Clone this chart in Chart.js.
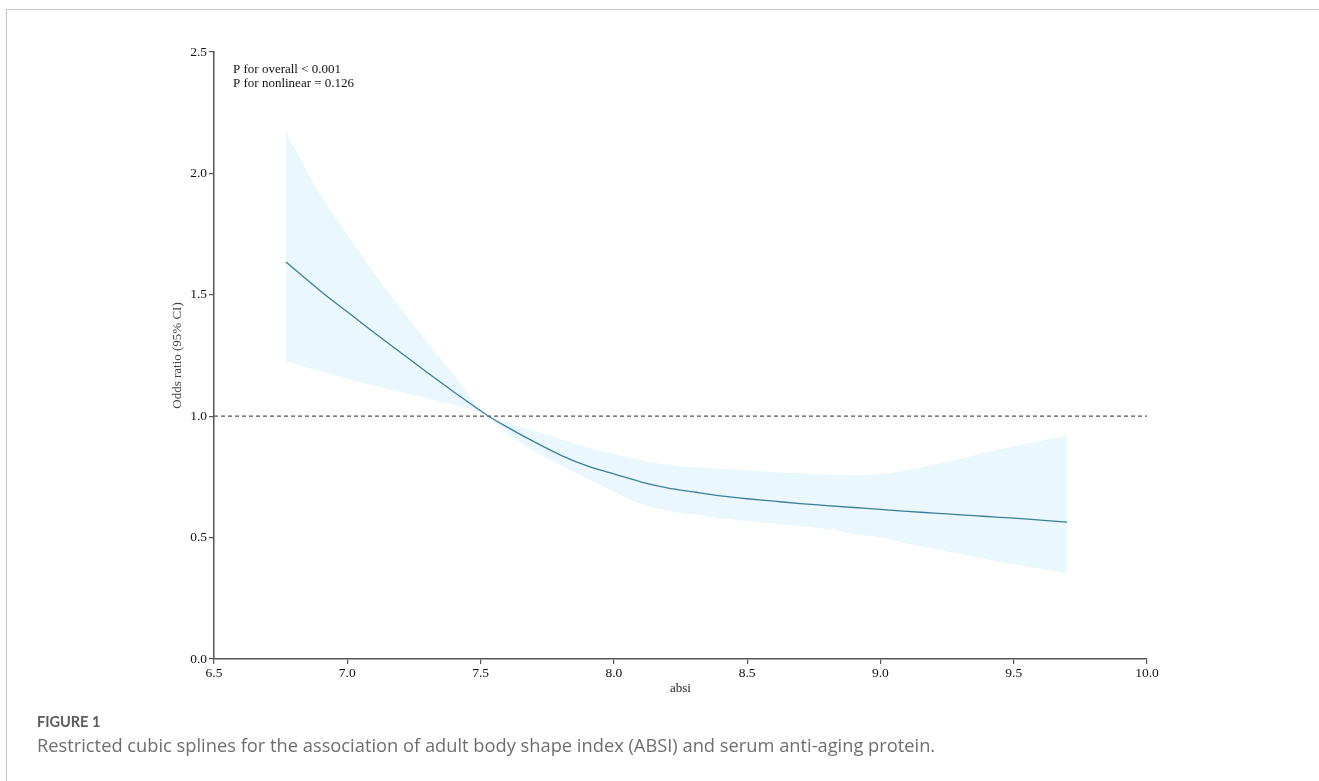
<!DOCTYPE html>
<html>
<head>
<meta charset="utf-8">
<script src="https://cdn.jsdelivr.net/npm/chart.js@4"></script>
<style>
  html, body { margin: 0; padding: 0; background: #ffffff; }
  body { width: 1319px; height: 781px; position: relative; overflow: hidden; }
  #frame { position: absolute; left: 6px; top: 9px; width: 1400px; height: 900px;
           border-left: 1px solid #c8c8c8; border-top: 1px solid #c8c8c8; }
  #wrap { position: absolute; left: 0; top: 0; width: 1319px; height: 781px; }
  #figlabel { position: absolute; left: 37px; top: 712px; font-family: Lato, "Open Sans", sans-serif;
              font-weight: 700; font-size: 14.5px; color: #5a5b5d; line-height: 20px; }
  #caption { position: absolute; left: 37px; top: 733px; font-family: "Open Sans", Lato, sans-serif;
             font-size: 18.3px; color: #6d6e71; line-height: 24px; white-space: nowrap; }
</style>
</head>
<body>
<div id="frame"></div>
<div id="wrap"><canvas id="c" width="1319" height="781"></canvas></div>
<div id="figlabel">FIGURE 1</div>
<div id="caption">Restricted cubic splines for the association of adult body shape index (ABSI) and serum anti-aging protein.</div>
<script>
// ---- data ----
const absi = [6.77, 6.9, 7.0, 7.1, 7.2, 7.3, 7.4, 7.53, 7.6, 7.7, 7.8, 7.9, 8.0, 8.1, 8.2, 8.3, 8.4, 8.5,
              8.6, 8.7, 8.8, 8.9, 9.0, 9.1, 9.2, 9.3, 9.4, 9.5, 9.6, 9.7];
const oddsRatio = [1.635, 1.515, 1.43, 1.345, 1.262, 1.18, 1.1, 1.0, 0.955, 0.895, 0.84, 0.795, 0.762, 0.73,
                   0.705, 0.688, 0.672, 0.66, 0.65, 0.64, 0.632, 0.624, 0.616, 0.608, 0.601, 0.594, 0.587,
                   0.58, 0.572, 0.564];
const upperCI = [2.17, 1.91, 1.75, 1.59, 1.445, 1.305, 1.17, 1.0, 0.975, 0.94, 0.905, 0.872, 0.845, 0.82,
                 0.80, 0.79, 0.785, 0.777, 0.770, 0.765, 0.760, 0.758, 0.762, 0.778, 0.80, 0.825, 0.852,
                 0.875, 0.898, 0.922];
const lowerCI = [1.225, 1.185, 1.155, 1.125, 1.10, 1.073, 1.045, 1.0, 0.93, 0.855, 0.798, 0.742, 0.69, 0.638,
                 0.612, 0.595, 0.58, 0.568, 0.557, 0.546, 0.535, 0.515, 0.50, 0.476, 0.454, 0.432, 0.41,
                 0.39, 0.372, 0.353];
const refLineX = [6.5, 10.0];
const refLineY = [1.0, 1.0];
const xTicks = [6.5, 7.0, 7.5, 8.0, 8.5, 9.0, 9.5, 10.0];
const yTicks = [0.0, 0.5, 1.0, 1.5, 2.0, 2.5];
const annotationLines = ["P for overall < 0.001", "P for nonlinear = 0.126"];
const xTitle = "absi";
const yTitle = "Odds ratio (95% CI)";

const pts = (xs, ys) => xs.map((x, i) => ({ x: x, y: ys[i] }));

const serif = '"Liberation Serif", "Times New Roman", serif';

const annotationPlugin = {
  id: 'pAnnot',
  afterDraw(chart) {
    const { ctx, chartArea } = chart;
    ctx.save();
    ctx.font = '13px ' + serif;
    ctx.fillStyle = '#111111';
    ctx.textBaseline = 'middle';
    ctx.textAlign = 'left';
    annotationLines.forEach((t, i) => ctx.fillText(t, chartArea.left + 19, chartArea.top + 17.5 + i * 14));
    ctx.restore();
  }
};

new Chart(document.getElementById('c'), {
  type: 'line',
  data: {
    datasets: [
      { label: 'upper', data: pts(absi, upperCI), borderWidth: 0, borderColor: 'rgba(0,0,0,0)',
        backgroundColor: '#eaf8fd', fill: '+1', pointRadius: 0, cubicInterpolationMode: 'monotone', order: 3 },
      { label: 'lower', data: pts(absi, lowerCI), borderWidth: 0, borderColor: 'rgba(0,0,0,0)',
        backgroundColor: '#eaf8fd', fill: false, pointRadius: 0, cubicInterpolationMode: 'monotone', order: 3 },
      { label: 'ref', data: pts(refLineX, refLineY), borderWidth: 1.2, borderColor: '#555555',
        borderDash: [4, 3], fill: false, pointRadius: 0, order: 2 },
      { label: 'OR', data: pts(absi, oddsRatio), borderWidth: 1.3, borderColor: '#3a7e9a',
        fill: false, pointRadius: 0, cubicInterpolationMode: 'monotone', order: 1 }
    ]
  },
  options: {
    responsive: false,
    animation: false,
    events: [],
    layout: { padding: { top: 52, right: 172, bottom: 0, left: 0 } },
    plugins: { legend: { display: false }, tooltip: { enabled: false } },
    scales: {
      x: {
        type: 'linear', min: 6.5, max: 10.0,
        afterBuildTicks: (s) => { s.ticks = xTicks.map(v => ({ value: v })); },
        afterFit: (s) => { s.height = 122; },
        ticks: { callback: (v) => Number(v).toFixed(1), font: { family: serif, size: 13.5 }, color: '#111111',
                 padding: 1, maxRotation: 0, autoSkip: false },
        grid: { display: true, drawOnChartArea: false, drawTicks: true, tickLength: 5, color: '#555555', lineWidth: 1.2 },
        border: { display: true, color: '#555555', width: 1.5 },
        title: { display: true, text: xTitle, font: { family: serif, size: 13 }, color: '#222222',
                 padding: { top: 0, bottom: 85 } }
      },
      y: {
        type: 'linear', min: 0, max: 2.5,
        afterBuildTicks: (s) => { s.ticks = yTicks.map(v => ({ value: v })); },
        afterFit: (s) => { s.width = 214; },
        ticks: { callback: (v) => Number(v).toFixed(1), font: { family: serif, size: 13.5 }, color: '#111111',
                 padding: 2, autoSkip: false },
        grid: { display: true, drawOnChartArea: false, drawTicks: true, tickLength: 5, color: '#555555', lineWidth: 1.2 },
        border: { display: true, color: '#555555', width: 1.5 },
        title: { display: true, text: yTitle, font: { family: serif, size: 13 }, color: '#444444',
                 padding: { top: 170, bottom: 0 } }
      }
    }
  },
  plugins: [annotationPlugin]
});
</script>
</body>
</html>
